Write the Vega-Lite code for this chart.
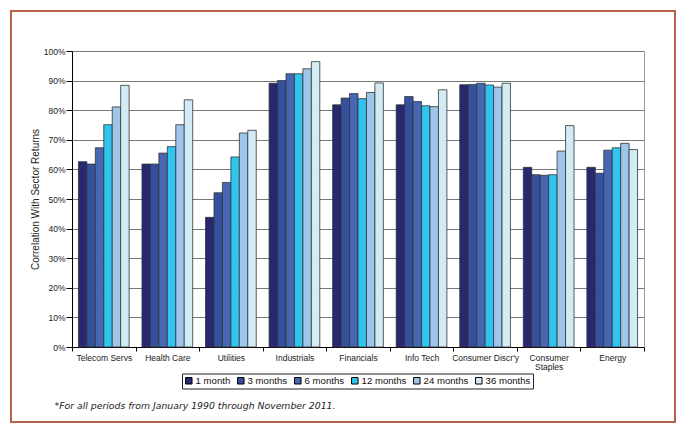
{
  "$schema": "https://vega.github.io/schema/vega-lite/v6.json",
  "width": 664,
  "height": 411,
  "autosize": "none",
  "padding": {"left": 11, "top": 11, "right": 10, "bottom": 10},
  "background": "white",
  "config": {
    "view": {"stroke": "#B5614B", "strokeWidth": 2},
    "font": "Liberation Sans",
    "axis": {"labelFont": "Liberation Sans", "titleFont": "Liberation Sans", "labelColor": "#222", "titleColor": "#222"}
  },
  "data": {
    "values": [
      {"sector": "Telecom Servs", "period": "1 month", "value": 0.626},
      {"sector": "Telecom Servs", "period": "3 months", "value": 0.618},
      {"sector": "Telecom Servs", "period": "6 months", "value": 0.673},
      {"sector": "Telecom Servs", "period": "12 months", "value": 0.751},
      {"sector": "Telecom Servs", "period": "24 months", "value": 0.811},
      {"sector": "Telecom Servs", "period": "36 months", "value": 0.884},
      {"sector": "Health Care", "period": "1 month", "value": 0.618},
      {"sector": "Health Care", "period": "3 months", "value": 0.618},
      {"sector": "Health Care", "period": "6 months", "value": 0.655},
      {"sector": "Health Care", "period": "12 months", "value": 0.677},
      {"sector": "Health Care", "period": "24 months", "value": 0.751},
      {"sector": "Health Care", "period": "36 months", "value": 0.835},
      {"sector": "Utilities", "period": "1 month", "value": 0.438},
      {"sector": "Utilities", "period": "3 months", "value": 0.521},
      {"sector": "Utilities", "period": "6 months", "value": 0.556},
      {"sector": "Utilities", "period": "12 months", "value": 0.642},
      {"sector": "Utilities", "period": "24 months", "value": 0.723},
      {"sector": "Utilities", "period": "36 months", "value": 0.732},
      {"sector": "Industrials", "period": "1 month", "value": 0.891},
      {"sector": "Industrials", "period": "3 months", "value": 0.900},
      {"sector": "Industrials", "period": "6 months", "value": 0.923},
      {"sector": "Industrials", "period": "12 months", "value": 0.923},
      {"sector": "Industrials", "period": "24 months", "value": 0.940},
      {"sector": "Industrials", "period": "36 months", "value": 0.964},
      {"sector": "Financials", "period": "1 month", "value": 0.818},
      {"sector": "Financials", "period": "3 months", "value": 0.841},
      {"sector": "Financials", "period": "6 months", "value": 0.856},
      {"sector": "Financials", "period": "12 months", "value": 0.839},
      {"sector": "Financials", "period": "24 months", "value": 0.860},
      {"sector": "Financials", "period": "36 months", "value": 0.892},
      {"sector": "Info Tech", "period": "1 month", "value": 0.818},
      {"sector": "Info Tech", "period": "3 months", "value": 0.846},
      {"sector": "Info Tech", "period": "6 months", "value": 0.829},
      {"sector": "Info Tech", "period": "12 months", "value": 0.815},
      {"sector": "Info Tech", "period": "24 months", "value": 0.812},
      {"sector": "Info Tech", "period": "36 months", "value": 0.869},
      {"sector": "Consumer Discr'y", "period": "1 month", "value": 0.886},
      {"sector": "Consumer Discr'y", "period": "3 months", "value": 0.887},
      {"sector": "Consumer Discr'y", "period": "6 months", "value": 0.891},
      {"sector": "Consumer Discr'y", "period": "12 months", "value": 0.885},
      {"sector": "Consumer Discr'y", "period": "24 months", "value": 0.878},
      {"sector": "Consumer Discr'y", "period": "36 months", "value": 0.891},
      {"sector": "Consumer Staples", "period": "1 month", "value": 0.607},
      {"sector": "Consumer Staples", "period": "3 months", "value": 0.582},
      {"sector": "Consumer Staples", "period": "6 months", "value": 0.580},
      {"sector": "Consumer Staples", "period": "12 months", "value": 0.582},
      {"sector": "Consumer Staples", "period": "24 months", "value": 0.662},
      {"sector": "Consumer Staples", "period": "36 months", "value": 0.748},
      {"sector": "Energy", "period": "1 month", "value": 0.607},
      {"sector": "Energy", "period": "3 months", "value": 0.587},
      {"sector": "Energy", "period": "6 months", "value": 0.665},
      {"sector": "Energy", "period": "12 months", "value": 0.673},
      {"sector": "Energy", "period": "24 months", "value": 0.688},
      {"sector": "Energy", "period": "36 months", "value": 0.667}
    ]
  },
  "layer": [
    {
      "mark": {"type": "bar", "stroke": "#333", "strokeWidth": 0.8},
      "encoding": {
        "x": {
          "field": "sector",
          "type": "nominal",
          "sort": null,
          "scale": {"range": [61, 633], "paddingInner": 0, "paddingOuter": 0},
          "axis": {
            "orient": "bottom",
            "offset": -75,
            "tickBand": "extent",
            "labelAngle": 0,
            "labelFontSize": 8.5,
            "labelPadding": 2,
            "labelLineHeight": 9,
            "labelBaseline": "top",
            "labelExpr": "datum.label == 'Consumer Staples' ? ['Consumer', 'Staples'] : datum.label",
            "tickSize": 4,
            "tickColor": "#000",
            "domainColor": "#000",
            "grid": false,
            "title": "*For all periods from January 1990 through November 2011.",
            "titleFont": "DejaVu Sans",
            "titleFontStyle": "italic",
            "titleFontWeight": "normal",
            "titleFontSize": 9.3,
            "titleAlign": "left",
            "titleAnchor": "start",
            "titleBaseline": "middle",
            "titleX": 43,
            "titleY": 58
          }
        },
        "xOffset": {
          "field": "period",
          "type": "nominal",
          "sort": null,
          "scale": {"domain": ["1 month", "3 months", "6 months", "12 months", "24 months", "36 months"], "paddingInner": 0, "paddingOuter": 0.76}
        },
        "y": {
          "field": "value",
          "type": "quantitative",
          "scale": {"domain": [0, 1], "range": [336, 40], "nice": false, "zero": true},
          "axis": {
            "orient": "left",
            "offset": -61,
            "values": [0, 0.1, 0.2, 0.3, 0.4, 0.5, 0.6, 0.7, 0.8, 0.9, 1],
            "format": ".0%",
            "labelFontSize": 8.5,
            "labelPadding": 1,
            "tickSize": 6,
            "tickColor": "#000",
            "domainColor": "#000",
            "grid": true,
            "gridColor": "#555",
            "gridWidth": 0.8,
            "title": "Correlation With Sector Returns",
            "titleFontSize": 10,
            "titleFontWeight": "normal",
            "titleAngle": -90,
            "titleBaseline": "middle",
            "titleAlign": "center",
            "titleX": -37,
            "titleY": 188
          }
        },
        "color": {
          "field": "period",
          "type": "nominal",
          "scale": {
            "domain": ["1 month", "3 months", "6 months", "12 months", "24 months", "36 months"],
            "range": ["#262870", "#3650A0", "#4767B2", "#30C4F0", "#9EC6EA", "#D2ECF5"]
          },
          "legend": {
            "orient": "none",
            "legendX": 171,
            "legendY": 362.5,
            "direction": "horizontal",
            "title": null,
            "strokeColor": "#222",
            "padding": 2,
            "symbolType": "square",
            "symbolSize": 42,
            "symbolStrokeColor": "#000",
            "symbolStrokeWidth": 1,
            "labelFont": "Liberation Sans",
            "labelFontSize": 9.6,
            "labelColor": "#111",
            "labelOffset": 2,
            "columnPadding": 4
          }
        }
      }
    },
    {
      "mark": {"type": "rule", "opacity": 0},
      "encoding": {
        "y": {
          "datum": 0,
          "type": "quantitative",
          "axis": {
            "orient": "right",
            "offset": -31,
            "labels": false,
            "ticks": false,
            "grid": false,
            "title": null,
            "domainColor": "#999"
          }
        }
      }
    }
  ],
  "resolve": {"axis": {"y": "independent"}}
}
